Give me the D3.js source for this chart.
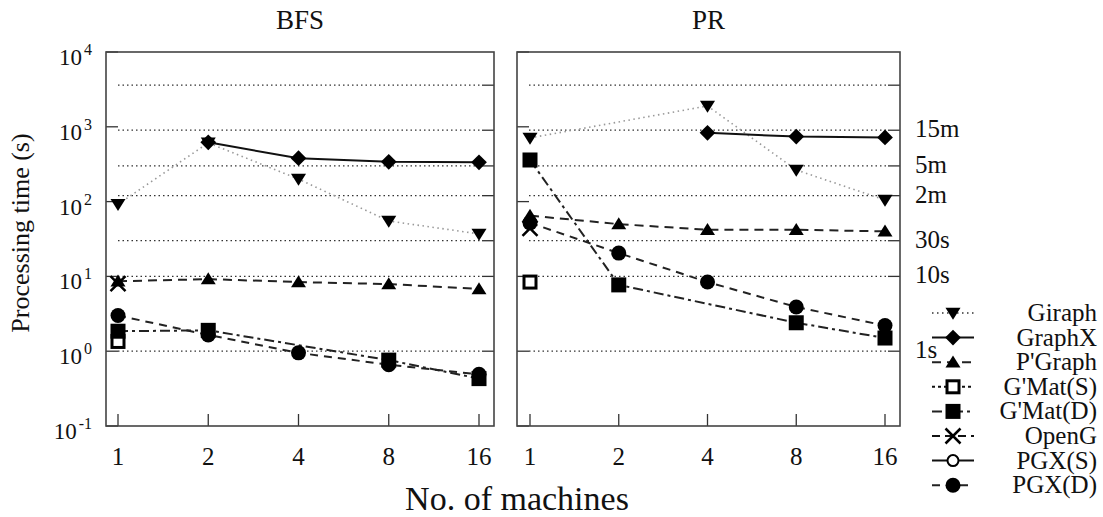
<!DOCTYPE html>
<html>
<head>
<meta charset="utf-8">
<script src="https://cdn.jsdelivr.net/npm/d3@7"></script>
<style>
  body { margin: 0; background: #fff; }
  text { font-family: "Liberation Serif", "DejaVu Serif", serif; fill: #111; }
</style>
</head>
<body>
<div id="viz"></div>
<script>
// machines on the x axis
let machines = [1, 2, 4, 8, 16]
let seriesNames = ["Giraph", "GraphX", "P'Graph", "G'Mat(S)", "G'Mat(D)", "OpenG", "PGX(S)", "PGX(D)"]

// BFS values (s), null = no run
let bfsGiraph = [92, 610, 200, 55, 37]
let bfsGraphX = [null, 620, 380, 340, 335]
let bfsPGraph = [8.6, 9.2, 8.4, 7.9, 6.8]
let bfsGMatS = [1.35, null, null, null, null]
let bfsGMatD = [1.85, 1.9, null, 0.76, 0.43]
let bfsOpenG = [8.0, null, null, null, null]
let bfsPGXS = [null, null, null, null, null]
let bfsPGXD = [3.0, 1.65, 0.95, 0.66, 0.49]

// PR values (s)
let prGiraph = [710, null, 1900, 265, 105]
let prGraphX = [null, null, 830, 740, 720]
let prPGraph = [65, 50, 42, 42, 40]
let prGMatS = [8.4, null, null, null, null]
let prGMatD = [360, 7.7, null, 2.4, 1.5]
let prOpenG = [44, null, null, null, null]
let prPGXS = [null, null, null, null, null]
let prPGXD = [52, 20.5, 8.4, 3.9, 2.2]

// y axis
let decades = [0.1, 1, 10, 100, 1000, 10000]
let timeMarks = [1, 10, 30, 120, 300, 900, 3600]
let timeLabels = ["1s", "10s", "30s", "2m", "5m", "15m", ""]

let panels = [
  { title: "BFS", x0: 106, x1: 494, padL: 12, padR: 15,
    values: [bfsGiraph, bfsGraphX, bfsPGraph, bfsGMatS, bfsGMatD, bfsOpenG, bfsPGXS, bfsPGXD] },
  { title: "PR", x0: 517, x1: 900, padL: 13, padR: 15,
    values: [prGiraph, prGraphX, prPGraph, prGMatS, prGMatD, prOpenG, prPGXS, prPGXD] }
]

let styles = [
  { dash: "1.5,3.5", color: "#999", width: 1.6, mark: "tri-down" },
  { dash: null, color: "#111", width: 2, mark: "diamond" },
  { dash: "9,6", color: "#222", width: 2, mark: "tri-up" },
  { dash: "3,3", color: "#111", width: 2, mark: "square-open" },
  { dash: "10,4,3,4", color: "#222", width: 2, mark: "square" },
  { dash: "8,5", color: "#111", width: 2, mark: "cross" },
  { dash: null, color: "#111", width: 2, mark: "circle-open" },
  { dash: "8,6", color: "#222", width: 2, mark: "circle" }
]

let plotTop = 52, plotBottom = 426
let y = d3.scaleLog().domain([0.1, 10000]).range([plotBottom, plotTop])

let svg = d3.select('#viz')
  .append('svg')
  .attr('width', 1103)
  .attr('height', 517)

function drawMarker(g, kind, cx, cy) {
  let s = 7.5
  if (kind == "tri-down") {
    g.append("path").attr("d", `M${cx - s},${cy - s * 0.7}L${cx + s},${cy - s * 0.7}L${cx},${cy + s * 0.9}Z`).attr("fill", "#000")
  } else if (kind == "tri-up") {
    g.append("path").attr("d", `M${cx - s},${cy + s * 0.7}L${cx + s},${cy + s * 0.7}L${cx},${cy - s * 0.9}Z`).attr("fill", "#000")
  } else if (kind == "diamond") {
    g.append("path").attr("d", `M${cx},${cy - s * 1.05}L${cx + s * 1.05},${cy}L${cx},${cy + s * 1.05}L${cx - s * 1.05},${cy}Z`).attr("fill", "#000")
  } else if (kind == "square") {
    g.append("rect").attr("x", cx - s).attr("y", cy - s).attr("width", 2 * s).attr("height", 2 * s).attr("fill", "#000")
  } else if (kind == "square-open") {
    g.append("rect").attr("x", cx - s + 1.5).attr("y", cy - s + 1.5).attr("width", 2 * s - 3).attr("height", 2 * s - 3)
      .attr("fill", "#fff").attr("stroke", "#000").attr("stroke-width", 3)
  } else if (kind == "cross") {
    g.append("path").attr("d", `M${cx - s},${cy - s}L${cx + s},${cy + s}M${cx - s},${cy + s}L${cx + s},${cy - s}`)
      .attr("stroke", "#000").attr("stroke-width", 2.5)
  } else if (kind == "circle") {
    g.append("circle").attr("cx", cx).attr("cy", cy).attr("r", s).attr("fill", "#000")
  } else if (kind == "circle-open") {
    g.append("circle").attr("cx", cx).attr("cy", cy).attr("r", s - 2).attr("fill", "#fff").attr("stroke", "#000").attr("stroke-width", 2)
  }
}

panels.forEach((p) => {
  let x = d3.scaleLinear().domain([0, machines.length - 1]).range([p.x0 + p.padL, p.x1 - p.padR])
  let g = svg.append("g")

  // dotted grid at the time marks
  timeMarks.forEach((t) => {
    g.append("line")
      .attr("x1", p.x0 + 12).attr("x2", p.x1 - 12)
      .attr("y1", y(t)).attr("y2", y(t))
      .attr("stroke", "#333").attr("stroke-width", 1.3)
      .attr("stroke-dasharray", "1.5,3")
  })

  // ticks inside the frame
  decades.forEach((d) => {
    g.append("line").attr("x1", p.x0).attr("x2", p.x0 + 12).attr("y1", y(d)).attr("y2", y(d))
      .attr("stroke", "#333").attr("stroke-width", 1.3)
  })
  timeMarks.forEach((t) => {
    g.append("line").attr("x1", p.x1 - 12).attr("x2", p.x1).attr("y1", y(t)).attr("y2", y(t))
      .attr("stroke", "#333").attr("stroke-width", 1.3)
  })
  machines.forEach((m, i) => {
    g.append("line").attr("x1", x(i)).attr("x2", x(i)).attr("y1", plotBottom).attr("y2", plotBottom - 12)
      .attr("stroke", "#333").attr("stroke-width", 1.3)
    g.append("text").attr("x", x(i)).attr("y", 465)
      .attr("text-anchor", "middle").style("font-size", "25px").text(m)
  })

  // series lines then markers
  p.values.forEach((vals, si) => {
    let st = styles[si]
    let pts = vals.map((v, i) => ({ i: i, v: v })).filter((d) => d.v != null)
    if (pts.length > 1) {
      g.append("path")
        .attr("d", d3.line().x((d) => x(d.i)).y((d) => y(d.v))(pts))
        .attr("fill", "none").attr("stroke", st.color).attr("stroke-width", st.width)
        .attr("stroke-dasharray", st.dash)
    }
    pts.forEach((d) => drawMarker(g, st.mark, x(d.i), y(d.v)))
  })

  // frame
  g.append("rect").attr("x", p.x0).attr("y", plotTop).attr("width", p.x1 - p.x0).attr("height", plotBottom - plotTop)
    .attr("fill", "none").attr("stroke", "#444").attr("stroke-width", 1.6)

  svg.append("text").attr("x", (p.x0 + p.x1) / 2).attr("y", 29)
    .attr("text-anchor", "middle").style("font-size", "27px").text(p.title)
})

// left axis labels
decades.forEach((d) => {
  let t = svg.append("text").attr("x", 92).attr("y", y(d) + 13).attr("text-anchor", "end").style("font-size", "23px")
  t.append("tspan").text("10")
  t.append("tspan").attr("dx", 2).attr("dy", -10).style("font-size", "16px").text(Math.round(Math.log10(d)))
})

// right time labels
timeMarks.forEach((t, i) => {
  svg.append("text").attr("x", 915).attr("y", y(t) + 7).style("font-size", "25px").text(timeLabels[i])
})

svg.append("text").attr("transform", "translate(29,233) rotate(-90)")
  .attr("text-anchor", "middle").style("font-size", "26px").text("Processing time (s)")

svg.append("text").attr("x", 517).attr("y", 510)
  .attr("text-anchor", "middle").style("font-size", "34px").text("No. of machines")

// legend
seriesNames.forEach((name, si) => {
  let st = styles[si]
  let ly = 313 + si * 24.6
  let lg = svg.append("g")
  lg.append("line").attr("x1", 932).attr("x2", 974).attr("y1", ly).attr("y2", ly)
    .attr("stroke", si == 0 ? "#333" : st.color).attr("stroke-width", st.width)
    .attr("stroke-dasharray", st.dash)
  drawMarker(lg, st.mark, 953, ly)
  lg.append("text").attr("x", 1097).attr("y", ly + 8).attr("text-anchor", "end")
    .style("font-size", "25px").text(name)
})
</script>
</body>
</html>
